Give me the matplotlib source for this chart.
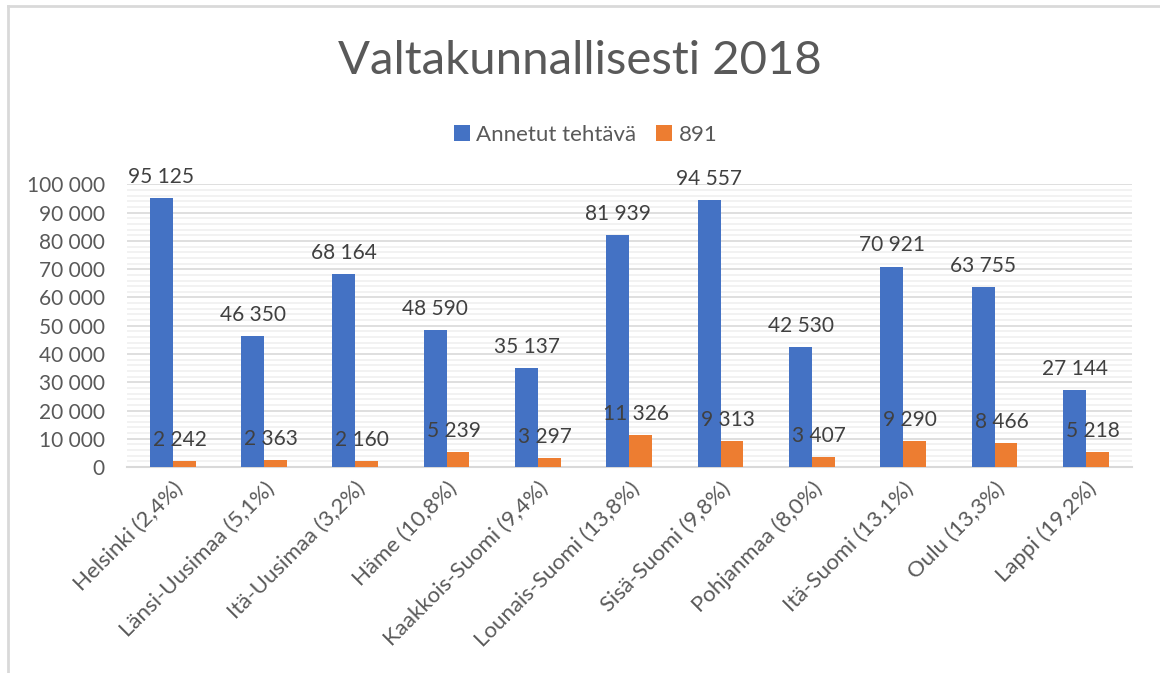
import numpy as np
import matplotlib.pyplot as plt
from matplotlib.ticker import MultipleLocator, FuncFormatter
from matplotlib.lines import Line2D

regions = ['Helsinki (2,4%)', 'Länsi-Uusimaa (5,1%)', 'Itä-Uusimaa (3,2%)', 'Häme (10,8%)',
           'Kaakkois-Suomi (9,4%)', 'Lounais-Suomi (13,8%)', 'Sisä-Suomi (9,8%)',
           'Pohjanmaa (8,0%)', 'Itä-Suomi (13.1%)', 'Oulu (13,3%)', 'Lappi (19,2%)']
annetut = [95125, 46350, 68164, 48590, 35137, 81939, 94557, 42530, 70921, 63755, 27144]
hata891 = [2242, 2363, 2160, 5239, 3297, 11326, 9313, 3407, 9290, 8466, 5218]

plt.rcParams['font.family'] = ['Lato', 'DejaVu Sans']
textColor = '#595959'

def spaced(v, pos=None):
    return '{:,}'.format(int(v)).replace(',', ' ')

fig = plt.figure(figsize=(11.6, 6.73), dpi=100)
ax = fig.add_axes([0.1095, 0.306, 0.866, 0.42])

x = np.arange(len(regions))
barWidth = 0.25
b1 = ax.bar(x - barWidth / 2, annetut, barWidth, color='#4472C4', label='Annetut tehtävä', zorder=3)
b2 = ax.bar(x + barWidth / 2, hata891, barWidth, color='#ED7D31', label='891', zorder=3)

for xi, v in zip(x, annetut):
    ax.annotate(spaced(v), (xi - barWidth / 2, v), xytext=(0, 8), textcoords='offset points',
                ha='center', va='bottom', fontsize=15, color='#404040')
for xi, v in zip(x, hata891):
    ax.annotate(spaced(v), (xi + barWidth / 2 - 0.05, v), xytext=(0, 8), textcoords='offset points',
                ha='center', va='bottom', fontsize=15, color='#404040')

ax.set_xlim(-0.5, len(regions) - 0.5)
ax.set_ylim(0, 100000)
ax.yaxis.set_major_locator(MultipleLocator(10000))
ax.yaxis.set_minor_locator(MultipleLocator(2000))
ax.yaxis.set_major_formatter(FuncFormatter(spaced))
ax.grid(axis='y', which='major', color='#D9D9D9', linewidth=1.2, zorder=0)
ax.grid(axis='y', which='minor', color='#F0F0F0', linewidth=1.2, zorder=0)
ax.set_axisbelow(True)
for s in ['top', 'right', 'left']:
    ax.spines[s].set_visible(False)
ax.spines['bottom'].set_color('#D9D9D9')
ax.spines['bottom'].set_linewidth(1.5)
ax.tick_params(axis='both', which='both', length=0, labelcolor=textColor)
ax.tick_params(axis='y', labelsize=15, pad=16)
ax.set_xticks(x)
ax.set_xticklabels(regions, rotation=45, ha='right', rotation_mode='anchor')
ax.tick_params(axis='x', labelsize=16, pad=8)

fig.text(0.5, 0.91, 'Valtakunnallisesti 2018', ha='center', va='center', fontsize=34, color=textColor)
fig.legend(handles=[b1, b2], loc='center', bbox_to_anchor=(0.505, 0.80), ncol=2, frameon=False,
           fontsize=16, labelcolor=textColor, handlelength=0.7, handleheight=0.7, columnspacing=0.9,
           handletextpad=0.3)

# chart area border (top and left edges visible)
fig.add_artist(Line2D([8 / 1160, 8 / 1160], [0, 1 - 6 / 673], transform=fig.transFigure,
                      color='#D9D9D9', linewidth=2))
fig.add_artist(Line2D([8 / 1160, 1], [1 - 6 / 673, 1 - 6 / 673], transform=fig.transFigure,
                      color='#D9D9D9', linewidth=2))

fig.savefig('out.png', dpi=100)
